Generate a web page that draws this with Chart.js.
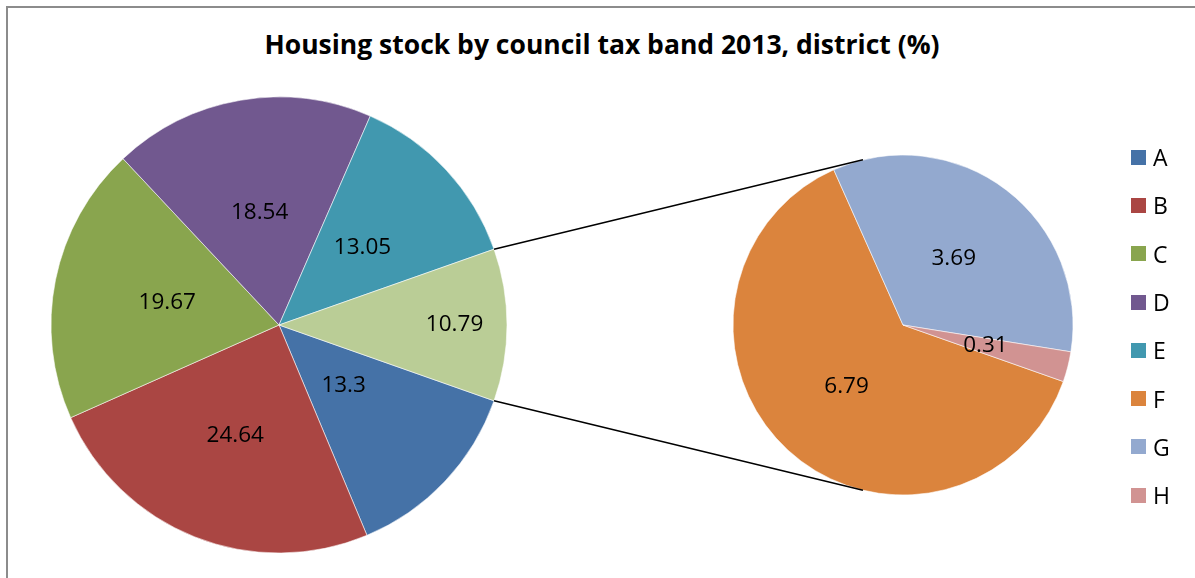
<!DOCTYPE html>
<html lang="en">
<head>
  <meta charset="UTF-8" />
  <title>Housing stock by council tax band 2013</title>
  <script src="https://cdn.jsdelivr.net/npm/chart.js"></script>
  <style>
    html, body {
      margin: 0;
      padding: 0;
      background: #ffffff;
      overflow: hidden;
      font-family: 'Open Sans', sans-serif;
    }
    #wrap {
      position: relative;
      width: 1195px;
      height: 578px;
      overflow: hidden;
    }
    .frame {
      position: absolute;
      left: 6px;
      top: 6px;
      width: 1300px;
      height: 700px;
      border: 2px solid #8c8c8c;
    }
    .title {
      position: absolute;
      left: 0;
      width: 1204px;
      top: 26px;
      text-align: center;
      font-weight: bold;
      font-size: 26.5px;
      color: #000;
    }
    canvas.layer {
      position: absolute;
      left: 0;
      top: 0;
    }
    #legend {
      position: absolute;
      left: 1131px;
      top: 133px;
    }
    .item {
      height: 48.3px;
      display: flex;
      align-items: center;
      font-size: 23px;
      color: #000;
    }
    .swatch {
      width: 15px;
      height: 15px;
      margin-right: 7px;
    }
  </style>
</head>
<body>
  <div id="wrap">
    <div class="frame"></div>
    <div class="title">Housing stock by council tax band 2013, district (%)</div>
    <canvas id="mainPie" class="layer" width="1195" height="578"></canvas>
    <canvas id="subPie" class="layer" width="1195" height="578"></canvas>
    <div id="legend"></div>
  </div>

  <script>
    // main pie: bands A-E plus the combined "other" slice (F+G+H)
    const mainLabels = ["A", "B", "C", "D", "E", "Other"];
    const mainValues = [13.3, 24.64, 19.67, 18.54, 13.05, 10.79];
    const mainColors = ["#4572A7", "#AA4643", "#89A54E", "#71588F", "#4198AF", "#BACD96"];

    // second pie: breakdown of the "other" slice
    const subLabels = ["F", "G", "H"];
    const subValues = [6.79, 3.69, 0.31];
    const subColors = ["#DB843D", "#93A9CF", "#D19392"];

    // legend entries
    const legendLabels = ["A", "B", "C", "D", "E", "F", "G", "H"];
    const legendColors = ["#4572A7", "#AA4643", "#89A54E", "#71588F", "#4198AF", "#DB843D", "#93A9CF", "#D19392"];

    // how far out the value labels sit (fraction of radius)
    const mainLabelPos = [0.39, 0.52, 0.5, 0.5, 0.5, 0.77];
    const subLabelPos = [0.49, 0.49, 0.5];

    const total = mainValues.reduce((a, b) => a + b, 0);
    const otherValue = mainValues[mainValues.length - 1];
    // centre the "other" slice on the right hand side
    const startRotation = 90 + 180 * otherValue / total;

    const valueLabels = {
      id: 'valueLabels',
      afterDatasetsDraw(chart, args, opts) {
        const ctx = chart.ctx;
        const meta = chart.getDatasetMeta(0);
        const values = chart.data.datasets[0].data;
        ctx.save();
        ctx.font = '22.5px "Open Sans", sans-serif';
        ctx.fillStyle = '#000';
        ctx.textAlign = 'center';
        ctx.textBaseline = 'middle';
        meta.data.forEach((arc, i) => {
          const mid = (arc.startAngle + arc.endAngle) / 2;
          const r = arc.outerRadius * opts.pos[i];
          ctx.fillText(String(values[i]), arc.x + Math.cos(mid) * r, arc.y + Math.sin(mid) * r);
        });
        ctx.restore();
      }
    };

    function tangentPoint(px, py, cx, cy, r, upper) {
      const dx = px - cx, dy = py - cy;
      const d = Math.sqrt(dx * dx + dy * dy);
      const a = Math.acos(r / d);
      const phi = Math.atan2(dy, dx);
      const t = upper ? phi + a : phi - a;
      return [cx + Math.cos(t) * r, cy + Math.sin(t) * r];
    }

    let mainChart;

    const connectors = {
      id: 'connectors',
      afterDraw(chart) {
        if (!mainChart) return;
        const other = mainChart.getDatasetMeta(0).data[mainValues.length - 1];
        const sub = chart.getDatasetMeta(0).data[0];
        if (!other || !sub) return;
        const ctx = chart.ctx;
        // startAngle is the upper edge of the slice, endAngle the lower one
        const ends = [
          [other.startAngle, true],
          [other.endAngle, false]
        ];
        ctx.save();
        ctx.strokeStyle = '#000';
        ctx.lineWidth = 1.5;
        ends.forEach(([ang, upper]) => {
          const px = other.x + Math.cos(ang) * other.outerRadius;
          const py = other.y + Math.sin(ang) * other.outerRadius;
          const [tx, ty] = tangentPoint(px, py, sub.x, sub.y, sub.outerRadius, upper);
          ctx.beginPath();
          ctx.moveTo(px, py);
          ctx.lineTo(tx, ty);
          ctx.stroke();
        });
        ctx.restore();
      }
    };

    function pieOptions(pad, radius, labelPos) {
      return {
        responsive: false,
        animation: false,
        events: [],
        rotation: startRotation,
        radius: radius,
        layout: { padding: pad },
        plugins: {
          legend: { display: false },
          tooltip: { enabled: false },
          title: { display: false },
          valueLabels: { pos: labelPos }
        }
      };
    }

    mainChart = new Chart(document.getElementById('mainPie').getContext('2d'), {
      type: 'pie',
      data: {
        labels: mainLabels,
        datasets: [{
          data: mainValues,
          backgroundColor: mainColors,
          borderColor: 'rgba(255,255,255,0.7)',
          borderWidth: 0.8
        }]
      },
      options: pieOptions({ left: 0, right: 637, top: 72, bottom: 0 }, 228, mainLabelPos),
      plugins: [valueLabels]
    });

    new Chart(document.getElementById('subPie').getContext('2d'), {
      type: 'pie',
      data: {
        labels: subLabels,
        datasets: [{
          data: subValues,
          backgroundColor: subColors,
          borderColor: 'rgba(255,255,255,0.7)',
          borderWidth: 0.8
        }]
      },
      options: pieOptions({ left: 611, right: 0, top: 72, bottom: 0 }, 170, subLabelPos),
      plugins: [valueLabels, connectors]
    });

    // legend
    const legend = document.getElementById('legend');
    legendLabels.forEach((lab, i) => {
      const item = document.createElement('div');
      item.className = 'item';
      item.innerHTML = '<span class="swatch" style="background:' + legendColors[i] + '"></span>' + lab;
      legend.appendChild(item);
    });
  </script>
</body>
</html>
